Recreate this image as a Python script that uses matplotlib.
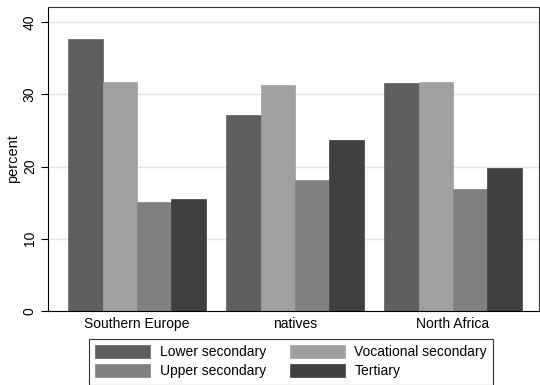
import numpy as np
import matplotlib.pyplot as plt

plt.rcParams["font.family"] = ["Liberation Sans", "DejaVu Sans"]

# Data
groups = ["Southern Europe", "natives", "North Africa"]
series = ["Lower secondary", "Vocational secondary", "Upper secondary", "Tertiary"]
lower = [37.6, 27.1, 31.6]
vocational = [31.7, 31.3, 31.7]
upper = [15.1, 18.1, 16.9]
tertiary = [15.5, 23.7, 19.8]
colors = ["#5f5f5f", "#a0a0a0", "#808080", "#404040"]

fig = plt.figure(figsize=(5.4, 3.85), dpi=100)
ax = fig.add_axes([48 / 540, 1 - 311 / 385, 491 / 540, 304 / 385])

x = np.arange(len(groups))
w = 0.218
vals = [lower, vocational, upper, tertiary]
bars = []
for i, (v, c) in enumerate(zip(vals, colors)):
    b = ax.bar(x + (i - 1.5) * w, v, w, color=c, edgecolor=c, linewidth=0.5,
               label=series[i], zorder=2)
    bars.append(b)

ax.set_xlim(-0.563, 2.544)
ax.set_ylim(0, 42.08)
ax.set_yticks([0, 10, 20, 30, 40])
ax.set_yticklabels(["0", "10", "20", "30", "40"], rotation=90, va="center")
ax.set_xticks(x)
ax.set_xticklabels(groups)
ax.tick_params(axis="x", length=0, pad=4, labelsize=10)
ax.tick_params(axis="y", length=5, width=0.8, pad=3, labelsize=10)
ax.yaxis.grid(True, color="#e4e4e4", linewidth=1, zorder=0)
ax.set_axisbelow(True)
for s in ax.spines.values():
    s.set_linewidth(0.8)
    s.set_color("#333333")
ax.spines["bottom"].set_color("#000000")
ax.spines["left"].set_color("#000000")
ax.set_ylabel("percent", fontsize=10.5, labelpad=2)

# Legend (row-wise order like the original)
order = [0, 2, 1, 3]
leg = fig.legend([bars[i] for i in order], [series[i] for i in order],
                 ncol=2, loc="upper left", bbox_to_anchor=(89 / 540, 1 - 339 / 385),
                 borderaxespad=0,
                 fontsize=10, frameon=True, fancybox=False, edgecolor="#000000",
                 handlelength=3.95, handleheight=1.0, handletextpad=0.7,
                 columnspacing=1.7, labelspacing=0.36, borderpad=0.45)
leg.get_frame().set_linewidth(0.8)

fig.savefig("out.png", dpi=100)
